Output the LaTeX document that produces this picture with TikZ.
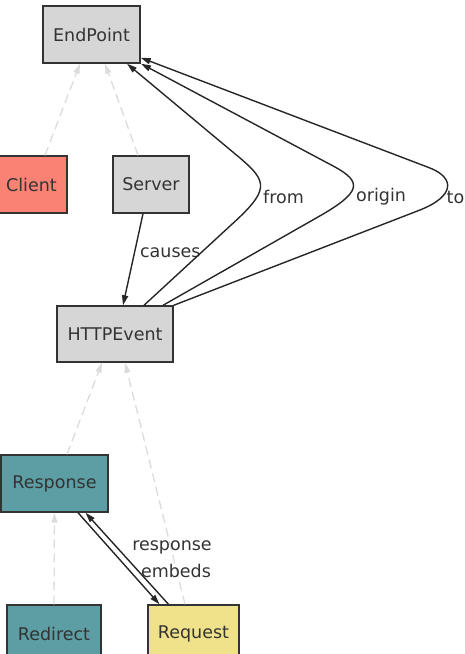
\documentclass[tikz,border=0pt]{standalone}
\usepackage{fontspec}
\setmainfont{DejaVu Sans}
\usetikzlibrary{arrows.meta,positioning}
\definecolor{classgray}{RGB}{214,214,214}
\definecolor{clientsalmon}{RGB}{250,130,116}
\definecolor{respteal}{RGB}{92,158,164}
\definecolor{reqkhaki}{RGB}{240,226,138}
\definecolor{inheritgray}{RGB}{220,220,220}
\definecolor{inkgray}{RGB}{51,51,51}

\begin{document}
\begin{tikzpicture}[x=1pt, y=-1pt, font=\fontsize{17.5}{20}\selectfont,
  cls/.style={draw=inkgray, line width=1.4pt, minimum height=57pt, inner sep=0pt, text=inkgray, fill=classgray},
  inherit/.style={draw=inheritgray, line width=1.3pt, dash pattern=on 9pt off 5pt, -{Triangle[length=10pt,width=6pt]}},
  rel/.style={draw=black!85, line width=1.4pt, -{Triangle[length=10pt,width=6pt]}},
  lbl/.style={text=inkgray, inner sep=0pt}]
\useasboundingbox (0,0) rectangle (465,654);
\node[cls, minimum width=97pt] (endpoint) at (91.5,34.5) {EndPoint};
\node[cls, minimum width=71pt, fill=clientsalmon] (client) at (31.5,184.5) {Client};
\node[cls, minimum width=76pt] (server) at (151,184.5) {Server};
\node[cls, minimum width=116pt, minimum height=56pt] (httpevent) at (115,334) {HTTPEvent};
\node[cls, minimum width=107pt, fill=respteal, text=black!80] (response) at (54.5,483.5) {Response};
\node[cls, minimum width=94pt, fill=respteal, text=black!80] (redirect) at (54,633.5) {Redirect};
\node[cls, minimum width=91pt, fill=reqkhaki, text=black!80] (request) at (193.5,633.5) {Request};
\draw[inherit] ([xshift=13.5pt]client.north) -- ([xshift=-11.5pt]endpoint.south);
\draw[inherit] ([xshift=-13pt]server.north) -- ([xshift=13.5pt]endpoint.south);
\draw[rel] ([xshift=-8pt]server.south) -- ([xshift=8pt]httpevent.north) node[lbl, pos=0.43, right=5pt] (lblcauses) {causes};
\draw[rel] ([xshift=29pt]httpevent.north) -- (230,226) .. controls (270,190) and (268,182) .. (240,158) -- ([xshift=35.5pt]endpoint.south);
\draw[rel] ([xshift=48pt]httpevent.north) -- (318,217) .. controls (362,192) and (362,182) .. (335,167) -- ([xshift=49.5pt]endpoint.south);
\draw[rel] (httpevent.north east) -- (420,210) .. controls (455,196) and (455,178) .. (430,168) -- ([yshift=6pt]endpoint.south east);
\node[lbl, anchor=west] (lblfrom) at (263,197) {from};
\node[lbl, anchor=west] (lblorigin) at (356,197) {origin};
\node[lbl, anchor=west] (lblto) at (446.5,197) {to};
\draw[inherit] ([xshift=12.5pt]response.north) -- ([xshift=-13pt]httpevent.south);
\draw[inherit] ([xshift=-8.5pt]request.north) -- ([xshift=10pt]httpevent.south);
\draw[inherit] (redirect.north) -- (response.south);
\draw[rel] ([xshift=23.5pt]response.south) -- ([xshift=-34pt]request.north);
\draw[rel] ([xshift=-25pt]request.north) -- ([xshift=31pt]response.south);
\node[lbl] (lblresponse) at (172,547) {response};
\node[lbl] (lblembeds) at (176,571) {embeds};
\end{tikzpicture}
\end{document}
